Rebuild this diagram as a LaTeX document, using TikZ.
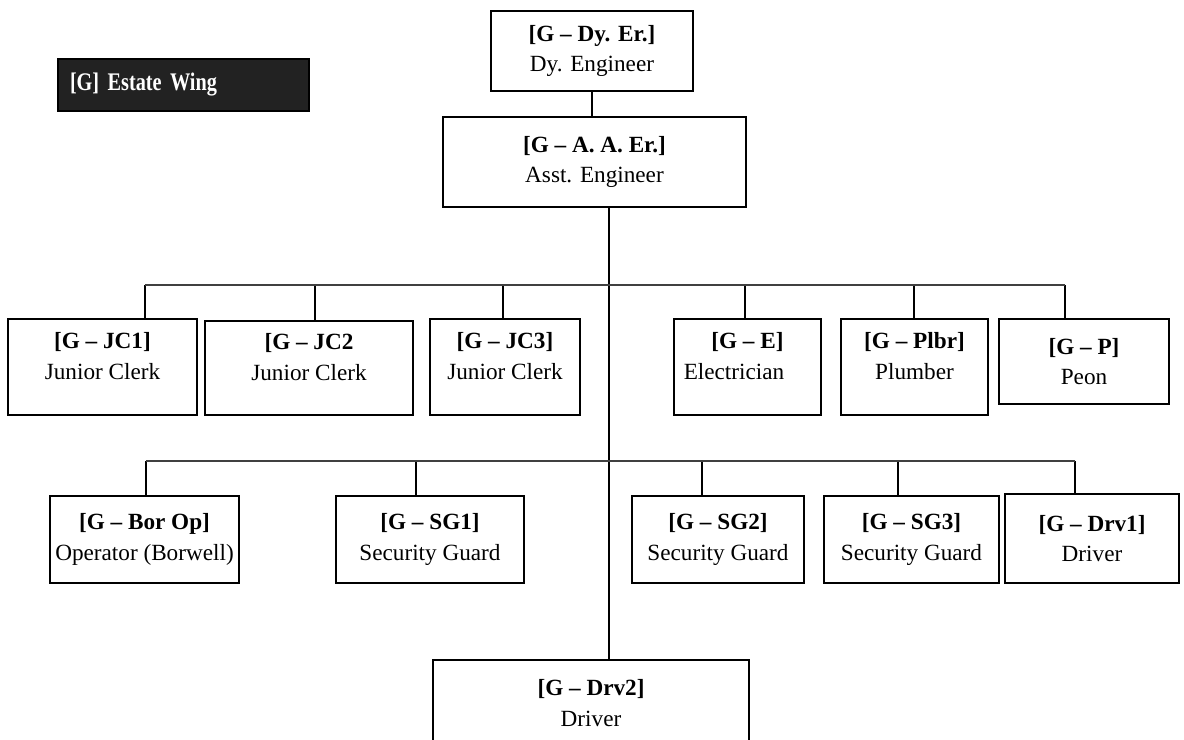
\documentclass[tikz,border=0pt]{standalone}
\usepackage{xcolor}
\usepackage{fontspec}
\setmainfont{Liberation Serif}
\newfontfamily\wingfont{Liberation Serif}[FakeStretch=0.8]
\usetikzlibrary{positioning, calc}
\definecolor{wingfill}{RGB}{34,34,34}

\begin{document}
\begin{tikzpicture}[
		x=0.025cm, y=-0.025cm, % pixel grid of the chart
		postbox/.style 2 args={rectangle, draw=black, line width=0.9pt, minimum width=#1*0.025cm, minimum height=#2*0.025cm, inner sep=0pt, align=center, font=\fontsize{16.5}{21.5}\selectfont},
		highbox/.style={text depth=0.55cm},
		wing/.style={rectangle, draw=black, fill=wingfill, text=white, line width=0.9pt, minimum height=52*0.025cm, text width=227*0.025cm, inner xsep=0.3cm, align=left, font=\wingfont\bfseries\fontsize{18}{20}\selectfont},
		link/.style={draw=black, line width=0.9pt},
		bus/.style={draw=black!75, line width=1.4pt}
		]
		\useasboundingbox (0,0) rectangle (1184,740);
		
		% Title
		\node[wing] (wing) at (183.5,85) {[G]\ Estate Wing};
		
		% Engineers
		\node[postbox={202}{80}] (dyer) at (592,51) {\textbf{[G – Dy. Er.]}\\Dy. Engineer};
		\node[postbox={303}{90}] (aaer) at (594.5,162) {\textbf{[G – A. A. Er.]}\\Asst. Engineer};
		
		% First row
		\node[postbox={189}{96}, highbox] (jc1) at (102.5,367) {\textbf{[G – JC1]}\\Junior Clerk};
		\node[postbox={208}{94}, highbox] (jc2) at (309,368) {\textbf{[G – JC2}\\Junior Clerk};
		\node[postbox={150}{96}, highbox] (jc3) at (505,367) {\textbf{[G – JC3]}\\Junior Clerk};
		\node[postbox={147}{96}, highbox] (elec) at (747.5,367) {\textbf{[G – E]}\\Electrician\hspace*{0.675cm}};
		\node[postbox={147}{96}, highbox] (plbr) at (914.5,367) {\textbf{[G – Plbr]}\\Plumber};
		\node[postbox={170}{85}] (peon) at (1084,361.5) {\textbf{[G – P]}\\Peon};
		
		% Second row
		\node[postbox={189}{87}] (borop) at (144.5,539.5) {\textbf{[G – Bor Op]}\\Operator (Borwell)};
		\node[postbox={188}{87}] (sg1) at (430,539.5) {\textbf{[G – SG1]}\\Security Guard};
		\node[postbox={172}{87}] (sg2) at (718,539.5) {\textbf{[G – SG2]}\\Security Guard};
		\node[postbox={175}{87}] (sg3) at (911.5,539.5) {\textbf{[G – SG3]}\\Security Guard};
		\node[postbox={174}{89}] (drv1) at (1092,538.5) {\textbf{[G – Drv1]}\\Driver};
		
		% Bottom
		\node[postbox={316}{86}] (drv2) at (591,703) {\textbf{[G – Drv2]}\\Driver};
		
		% Lines
		\draw[link] (dyer.south) -- (dyer.south |- aaer.north);
		\coordinate (trunk) at (609,207);
		\draw[link] (trunk) -- (trunk |- drv2.north);
		
		\foreach \n/\x in {jc1/145, jc2/315, jc3/503, elec/745, plbr/914, peon/1065} {
			\coordinate (top\n) at (\x,285);
			\draw[link] (top\n) -- (top\n |- \n.north);
		}
		\draw[bus] (topjc1) -- (toppeon);
		
		\foreach \n/\x in {borop/146, sg1/416, sg2/702, sg3/898, drv1/1075} {
			\coordinate (top\n) at (\x,461);
			\draw[link] (top\n) -- (top\n |- \n.north);
		}
		\draw[bus] (topborop) -- (topdrv1);
		
	\end{tikzpicture}
\end{document}
